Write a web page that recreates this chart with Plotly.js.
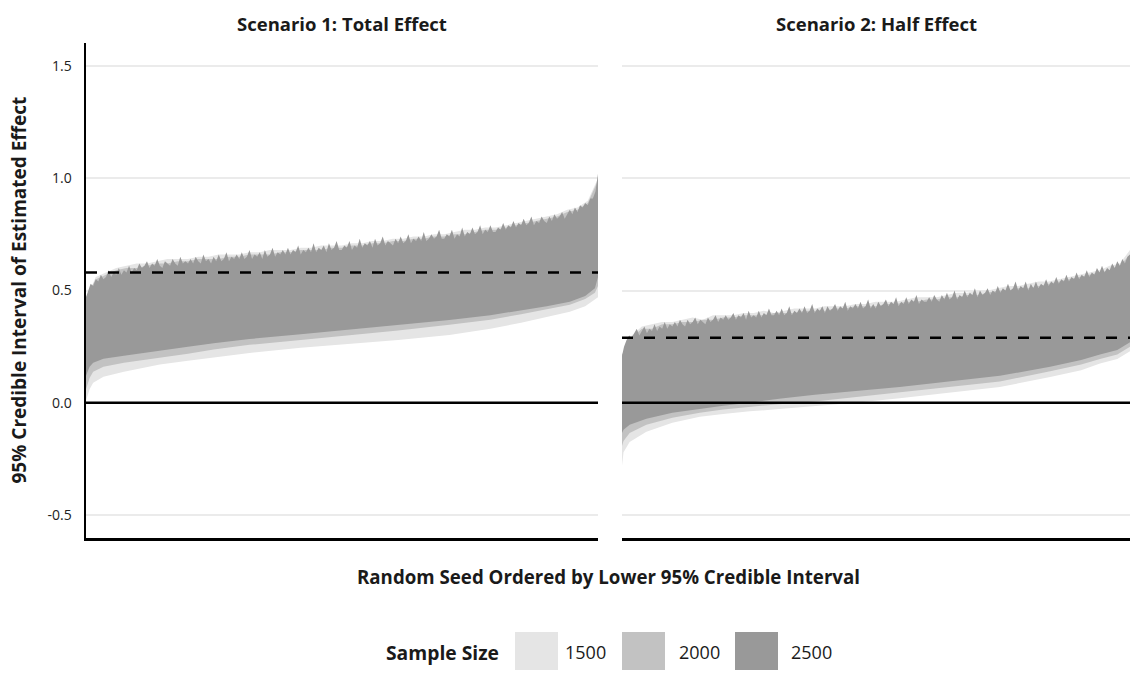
<!DOCTYPE html>
<html><head><meta charset="utf-8">
<script src="https://cdn.plot.ly/plotly-3.0.1.min.js"></script>
<style>html,body{margin:0;padding:0;background:#fff}#chart{width:1130px;height:673px}</style>
</head><body><div id="chart"></div>
<script>
// ---------- data ----------
const panelTitles = ['Scenario 1: Total Effect', 'Scenario 2: Half Effect'];
const sampleSizes = ['1500', '2000', '2500'];
const sizeColors = ['#e5e5e5', '#c2c2c2', '#999999'];
const trueEffect = [0.58, 0.29];
const yTickVals = [-0.5, 0, 0.5, 1.0, 1.5];
const yTickText = ['-0.5', '0.0', '0.5', '1.0', '1.5'];

// Scenario 1 lower bounds (seed rank ordered)
const s1LowerRank = [1, 8, 15, 35, 75, 145, 200, 250, 320, 420, 515, 610, 710, 790, 850, 900, 945, 975, 994, 1000];
const s1Lower1500 = [0.01, 0.06, 0.089, 0.116, 0.138, 0.17, 0.187, 0.202, 0.222, 0.245, 0.262, 0.28, 0.302, 0.33, 0.356, 0.38, 0.405, 0.43, 0.458, 0.47];
const s1Lower2000 = [0.06, 0.11, 0.138, 0.16, 0.178, 0.2, 0.218, 0.237, 0.258, 0.28, 0.30, 0.322, 0.347, 0.37, 0.394, 0.415, 0.436, 0.462, 0.49, 0.52];
const s1Lower2500 = [0.12, 0.16, 0.178, 0.196, 0.209, 0.233, 0.25, 0.265, 0.284, 0.305, 0.325, 0.345, 0.369, 0.39, 0.412, 0.43, 0.45, 0.475, 0.51, 0.56];

// Scenario 1 upper bounds (one value every 20 seeds for 1500/2000, every 5 for 2500)
const s1Upper1500 = [0.46, 0.56, 0.58, 0.60, 0.61, 0.62, 0.62, 0.63, 0.64, 0.64, 0.64, 0.65, 0.65, 0.66, 0.66, 0.66, 0.67, 0.67, 0.68, 0.68, 0.68, 0.69, 0.69, 0.70, 0.70, 0.70, 0.71, 0.71, 0.72, 0.72, 0.73, 0.73, 0.74, 0.74, 0.75, 0.75, 0.76, 0.77, 0.77, 0.78, 0.78, 0.79, 0.80, 0.81, 0.82, 0.83, 0.84, 0.86, 0.87, 0.90, 1.00];
const s1Upper2000 = [0.47, 0.55, 0.57, 0.59, 0.60, 0.60, 0.61, 0.62, 0.62, 0.63, 0.63, 0.64, 0.64, 0.64, 0.65, 0.65, 0.66, 0.66, 0.66, 0.67, 0.67, 0.68, 0.68, 0.68, 0.69, 0.69, 0.70, 0.70, 0.71, 0.71, 0.72, 0.72, 0.73, 0.73, 0.74, 0.74, 0.75, 0.75, 0.76, 0.77, 0.77, 0.78, 0.79, 0.80, 0.81, 0.82, 0.83, 0.85, 0.86, 0.89, 0.99];
const s1Upper2500 = [
  0.47, 0.50, 0.53, 0.52, 0.55, 0.54, 0.57, 0.55, 0.56, 0.59, 0.56, 0.58, 0.57, 0.60, 0.57, 0.59, 0.58, 0.61, 0.58, 0.60,
  0.59, 0.62, 0.60, 0.61, 0.63, 0.60, 0.62, 0.61, 0.64, 0.61, 0.60, 0.63, 0.62, 0.61, 0.64, 0.62, 0.61, 0.65, 0.62, 0.63,
  0.62, 0.64, 0.62, 0.65, 0.63, 0.62, 0.66, 0.63, 0.64, 0.62, 0.65, 0.63, 0.66, 0.63, 0.64, 0.67, 0.63, 0.65, 0.64, 0.66,
  0.64, 0.67, 0.64, 0.65, 0.68, 0.64, 0.66, 0.65, 0.67, 0.64, 0.68, 0.65, 0.66, 0.69, 0.65, 0.67, 0.66, 0.68, 0.66, 0.69,
  0.66, 0.68, 0.67, 0.70, 0.66, 0.68, 0.67, 0.69, 0.67, 0.71, 0.67, 0.69, 0.68, 0.70, 0.67, 0.71, 0.68, 0.69, 0.72, 0.68,
  0.68, 0.70, 0.69, 0.72, 0.68, 0.70, 0.69, 0.73, 0.69, 0.71, 0.70, 0.72, 0.69, 0.73, 0.70, 0.71, 0.74, 0.70, 0.72, 0.71,
  0.70, 0.73, 0.71, 0.74, 0.71, 0.72, 0.75, 0.71, 0.73, 0.72, 0.74, 0.72, 0.76, 0.72, 0.73, 0.75, 0.73, 0.74, 0.77, 0.73,
  0.73, 0.75, 0.74, 0.77, 0.73, 0.75, 0.74, 0.78, 0.74, 0.76, 0.75, 0.78, 0.75, 0.76, 0.79, 0.75, 0.77, 0.76, 0.79, 0.76,
  0.76, 0.78, 0.77, 0.80, 0.77, 0.79, 0.78, 0.81, 0.78, 0.80, 0.79, 0.82, 0.79, 0.80, 0.83, 0.79, 0.81, 0.80, 0.83, 0.81,
  0.80, 0.83, 0.81, 0.84, 0.82, 0.83, 0.85, 0.82, 0.84, 0.86, 0.84, 0.87, 0.85, 0.88, 0.87, 0.89, 0.88, 0.91, 0.91, 0.94,
  1.02];

// Scenario 2 lower bounds
const s2LowerRank = [0, 4, 16, 49, 100, 154, 200, 252, 310, 380, 460, 547, 665, 744, 843, 904, 941, 975, 1000];
const s2Lower1500 = [-0.30, -0.22, -0.175, -0.129, -0.089, -0.062, -0.05, -0.038, -0.028, -0.016, 0.0, 0.02, 0.05, 0.07, 0.115, 0.145, 0.175, 0.195, 0.23];
const s2Lower2000 = [-0.20, -0.17, -0.135, -0.098, -0.067, -0.044, -0.03, -0.018, -0.006, 0.006, 0.025, 0.045, 0.075, 0.095, 0.14, 0.17, 0.195, 0.215, 0.25];
const s2Lower2500 = [-0.14, -0.12, -0.098, -0.071, -0.044, -0.027, -0.013, 0.0, 0.018, 0.036, 0.053, 0.07, 0.10, 0.12, 0.16, 0.19, 0.215, 0.235, 0.27];

// Scenario 2 upper bounds
const s2Upper1500 = [0.19, 0.30, 0.34, 0.35, 0.36, 0.36, 0.37, 0.38, 0.37, 0.39, 0.39, 0.39, 0.40, 0.40, 0.41, 0.40, 0.41, 0.42, 0.42, 0.42, 0.43, 0.43, 0.43, 0.44, 0.44, 0.45, 0.45, 0.45, 0.46, 0.47, 0.47, 0.47, 0.48, 0.49, 0.49, 0.50, 0.50, 0.51, 0.52, 0.52, 0.53, 0.54, 0.54, 0.55, 0.56, 0.57, 0.58, 0.59, 0.61, 0.62, 0.68];
const s2Upper2000 = [0.21, 0.29, 0.33, 0.33, 0.35, 0.35, 0.36, 0.36, 0.37, 0.37, 0.38, 0.38, 0.39, 0.39, 0.39, 0.40, 0.40, 0.40, 0.41, 0.41, 0.41, 0.42, 0.42, 0.43, 0.43, 0.43, 0.44, 0.44, 0.45, 0.45, 0.46, 0.46, 0.47, 0.47, 0.48, 0.48, 0.49, 0.50, 0.50, 0.51, 0.51, 0.52, 0.53, 0.54, 0.55, 0.56, 0.57, 0.58, 0.59, 0.61, 0.66];
const s2Upper2500 = [
  0.20, 0.25, 0.28, 0.30, 0.29, 0.31, 0.33, 0.30, 0.32, 0.34, 0.31, 0.33, 0.32, 0.35, 0.32, 0.34, 0.33, 0.36, 0.33, 0.35,
  0.34, 0.36, 0.34, 0.37, 0.35, 0.34, 0.37, 0.35, 0.36, 0.38, 0.35, 0.37, 0.36, 0.35, 0.38, 0.36, 0.37, 0.39, 0.36, 0.38,
  0.37, 0.39, 0.37, 0.38, 0.40, 0.37, 0.39, 0.38, 0.40, 0.37, 0.41, 0.38, 0.39, 0.38, 0.41, 0.38, 0.40, 0.39, 0.42, 0.39,
  0.39, 0.41, 0.39, 0.42, 0.39, 0.40, 0.43, 0.39, 0.41, 0.40, 0.42, 0.40, 0.43, 0.40, 0.41, 0.44, 0.40, 0.42, 0.41, 0.43,
  0.40, 0.43, 0.41, 0.42, 0.44, 0.41, 0.43, 0.42, 0.45, 0.41, 0.43, 0.42, 0.44, 0.42, 0.45, 0.42, 0.43, 0.46, 0.42, 0.44,
  0.42, 0.45, 0.43, 0.44, 0.46, 0.43, 0.45, 0.44, 0.47, 0.43, 0.45, 0.44, 0.47, 0.44, 0.46, 0.45, 0.48, 0.44, 0.46, 0.45,
  0.45, 0.47, 0.45, 0.48, 0.46, 0.45, 0.48, 0.46, 0.49, 0.46, 0.47, 0.50, 0.46, 0.48, 0.47, 0.50, 0.47, 0.49, 0.48, 0.51,
  0.47, 0.50, 0.48, 0.49, 0.51, 0.48, 0.50, 0.49, 0.52, 0.49, 0.51, 0.50, 0.53, 0.50, 0.51, 0.54, 0.50, 0.52, 0.51, 0.54,
  0.50, 0.53, 0.51, 0.54, 0.51, 0.53, 0.52, 0.55, 0.52, 0.54, 0.53, 0.56, 0.53, 0.55, 0.54, 0.57, 0.54, 0.56, 0.55, 0.58,
  0.55, 0.57, 0.56, 0.59, 0.56, 0.58, 0.57, 0.60, 0.58, 0.61, 0.58, 0.60, 0.59, 0.62, 0.60, 0.63, 0.61, 0.64, 0.62, 0.65,
  0.66];

// ---------- build ----------
const scen = [
  {lr: s1LowerRank, lower: [s1Lower1500, s1Lower2000, s1Lower2500], upper: [s1Upper1500, s1Upper2000, s1Upper2500]},
  {lr: s2LowerRank, lower: [s2Lower1500, s2Lower2000, s2Lower2500], upper: [s2Upper1500, s2Upper2000, s2Upper2500]}
];
const traces = [];
scen.forEach((s, p) => {
  const xa = p === 0 ? 'x' : 'x2', ya = p === 0 ? 'y' : 'y2';
  for (let k = 0; k < 3; k++) {
    const up = s.upper[k];
    const step = 1000 / (up.length - 1);
    const ur = up.map((_, i) => Math.max(i * step, p === 0 ? 1 : 0));
    traces.push({
      type: 'scatter', mode: 'lines', xaxis: xa, yaxis: ya,
      x: s.lr.concat(ur.slice().reverse()),
      y: s.lower[k].concat(up.slice().reverse()),
      fill: 'toself', fillcolor: sizeColors[k],
      line: {width: 0, color: sizeColors[k]},
      hoverinfo: 'skip', showlegend: false, name: sampleSizes[k]
    });
  }
});

const FONT = '"Open Sans", Lato, sans-serif';
const L = 86, W = 1044, T = 43, H = 495;
const px = v => (v - L) / W;
const py = v => (T + H - v) / H;
const d1 = [0, px(598)], d2 = [px(622), 1];
const TXT = '#1a1a1a';

const yax = {
  range: [-0.602, 1.602], tickvals: yTickVals, ticktext: yTickText,
  showgrid: true, gridcolor: '#ebebeb', gridwidth: 2, zeroline: false,
  ticks: '', ticklabelstandoff: 9, tickfont: {family: FONT, size: 14, color: '#222'}
};
const xax = {
  range: [1, 1000], showgrid: false, zeroline: false, showticklabels: false, ticks: '',
  showline: true, linecolor: '#000', linewidth: 2.5
};

const shapes = [];
[['x', 'y'], ['x2', 'y2']].forEach(([xa, ya], p) => {
  shapes.push({type: 'line', xref: xa + ' domain', x0: 0, x1: 1, yref: ya, y0: 0, y1: 0,
    line: {color: '#000', width: 2.5}, layer: 'above'});
  shapes.push({type: 'line', xref: xa + ' domain', x0: 0, x1: 1, yref: ya, y0: trueEffect[p], y1: trueEffect[p],
    line: {color: '#000', width: 2.5, dash: '11px,11px'}, layer: 'above'});
});
// legend boxes
const boxX = [[515, 558], [622, 665], [735, 778]];
boxX.forEach((b, k) => {
  shapes.push({type: 'rect', xref: 'paper', yref: 'paper', x0: px(b[0]), x1: px(b[1]), y0: py(670), y1: py(632),
    fillcolor: sizeColors[k], line: {width: 0}});
});

const annotations = [
  {text: '<b>' + panelTitles[0] + '</b>', x: (d1[0] + d1[1]) / 2, y: py(24), xref: 'paper', yref: 'paper', showarrow: false, xanchor: 'center', yanchor: 'middle', font: {family: FONT, size: 18.5, color: TXT}},
  {text: '<b>' + panelTitles[1] + '</b>', x: (d2[0] + d2[1]) / 2, y: py(24), xref: 'paper', yref: 'paper', showarrow: false, xanchor: 'center', yanchor: 'middle', font: {family: FONT, size: 18.5, color: TXT}},
  {text: '<b>Random Seed Ordered by Lower 95% Credible Interval</b>', x: 0.5, y: py(576), xref: 'paper', yref: 'paper', showarrow: false, xanchor: 'center', yanchor: 'middle', font: {family: FONT, size: 18.7, color: TXT}},
  {text: '<b>95% Credible Interval of Estimated Effect</b>', x: px(18), y: 0.5, xref: 'paper', yref: 'paper', showarrow: false, textangle: -90, xanchor: 'center', yanchor: 'middle', font: {family: FONT, size: 19, color: TXT}},
  {text: '<b>Sample Size</b>', x: px(501), y: py(652), xref: 'paper', yref: 'paper', showarrow: false, xanchor: 'right', yanchor: 'middle', font: {family: FONT, size: 19.3, color: TXT}}
];
const labX = [563, 677, 789];
sampleSizes.forEach((s, k) => {
  annotations.push({text: s, x: px(labX[k]), y: py(652), xref: 'paper', yref: 'paper', showarrow: false, xanchor: 'left', yanchor: 'middle', font: {family: FONT, size: 18, color: TXT}});
});

const layout = {
  width: 1130, height: 673,
  margin: {l: L, r: 0, t: T, b: 673 - T - H, pad: 0},
  paper_bgcolor: '#fff', plot_bgcolor: '#fff',
  showlegend: false,
  xaxis: Object.assign({}, xax, {domain: d1, anchor: 'y'}),
  xaxis2: Object.assign({}, xax, {domain: d2, anchor: 'y2'}),
  yaxis: Object.assign({}, yax, {anchor: 'x', showline: true, linecolor: '#000', linewidth: 2.5}),
  yaxis2: Object.assign({}, yax, {anchor: 'x2', matches: 'y', showticklabels: false, showline: false}),
  shapes: shapes, annotations: annotations,
  font: {family: FONT}
};
Plotly.newPlot('chart', traces, layout, {displayModeBar: false, staticPlot: true});
</script></body></html>
